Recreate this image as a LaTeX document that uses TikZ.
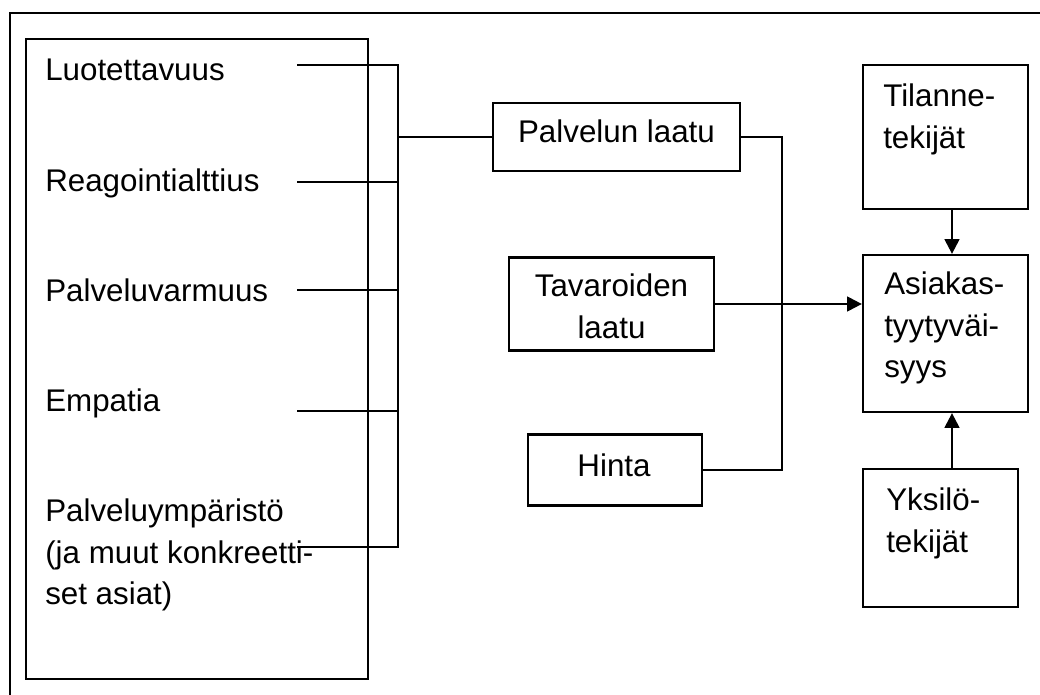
\documentclass[tikz,border=0pt]{standalone}
\usepackage{fontspec}
\setmainfont{Liberation Sans}
\usetikzlibrary{arrows.meta}
\begin{document}
\begin{tikzpicture}[x=0.75pt,y=-0.75pt,
  every node/.style={font=\fontsize{23.5}{31}\selectfont},
  box/.style={draw, line width=1.7pt, rectangle, inner sep=0pt},
  txt/.style={inner sep=0pt, anchor=base west},
  ctxt/.style={inner sep=0pt, anchor=base},
  wire/.style={line width=1.6pt},
  arr/.style={line width=1.7pt, -{Triangle[length=11pt,width=11pt]}}]
\useasboundingbox (0,0) rectangle (1040,695);

% outer frame
\draw[line width=1.7pt] (10,695) -- (10,13) -- (1040,13);

% boxes
\node[box, minimum width=256.5pt, minimum height=480pt]    (L)  at (197,359)    {};
\node[box, minimum width=185.25pt, minimum height=51pt]    (P)  at (616.5,137)  {};
\node[box, minimum width=153.75pt, minimum height=69.75pt] (T)  at (611.5,304)  {};
\node[box, minimum width=130.5pt, minimum height=53.25pt]  (H)  at (615,470)    {};
\node[box, minimum width=123.75pt, minimum height=108pt]   (TI) at (945.5,137)  {};
\node[box, minimum width=123.75pt, minimum height=117.75pt](A)  at (945.5,333.5){};
\node[box, minimum width=116.25pt, minimum height=103.5pt] (Y)  at (940.5,538)  {};

% texts of the left box
\node[txt] (t1) at (45,81)  {Luotettavuus};
\node[txt] (t2) at (45,192) {Reagointialttius};
\node[txt] (t3) at (45,302) {Palveluvarmuus};
\node[txt] (t4) at (45,412) {Empatia};
\node[txt] (t5) at (45,522) {\parbox[t]{250pt}{Palveluympäristö\\(ja muut konkreetti-\\set asiat)}};

% texts of the other boxes
\node[ctxt] (pt) at (616.5,143) {Palvelun laatu};
\node[ctxt] (tt) at (611.5,297) {\parbox[t]{150pt}{\centering Tavaroiden\\laatu}};
\node[ctxt] (ht) at (614,477)   {Hinta};
\node[txt]  (ti) at (883,107)   {\parbox[t]{120pt}{Tilanne-\\tekijät}};
\node[txt]  (at) at (884,295)   {\parbox[t]{120pt}{Asiakas-\\tyytyväi-\\syys}};
\node[txt]  (yt) at (886,511)   {\parbox[t]{120pt}{Yksilö-\\tekijät}};

% collecting bus from the service-quality factors
\coordinate (e1) at (297,65);
\coordinate (e2) at (297,182);
\coordinate (e3) at (297,290);
\coordinate (e4) at (297,411);
\coordinate (e5) at (297,547);
\coordinate (bx) at (398,137);
\draw[wire] (e1) -- (e1 -| bx) -- (e5 -| bx) -- (e5);
\draw[wire] (e2) -- (e2 -| bx);
\draw[wire] (e3) -- (e3 -| bx);
\draw[wire] (e4) -- (e4 -| bx);
\draw[wire] (bx) -- (P.west);

% quality and price towards satisfaction
\coordinate (jn) at (782,137);
\draw[wire] (P.east) -- (jn) |- (H.east);
\draw[arr] (T.east) -- (T.east -| A.west);

% situational and personal factors
\coordinate (ax) at (952,0);
\draw[arr] (TI.south -| ax) -- (A.north -| ax);
\draw[arr] (Y.north -| ax) -- (A.south -| ax);
\end{tikzpicture}
\end{document}
